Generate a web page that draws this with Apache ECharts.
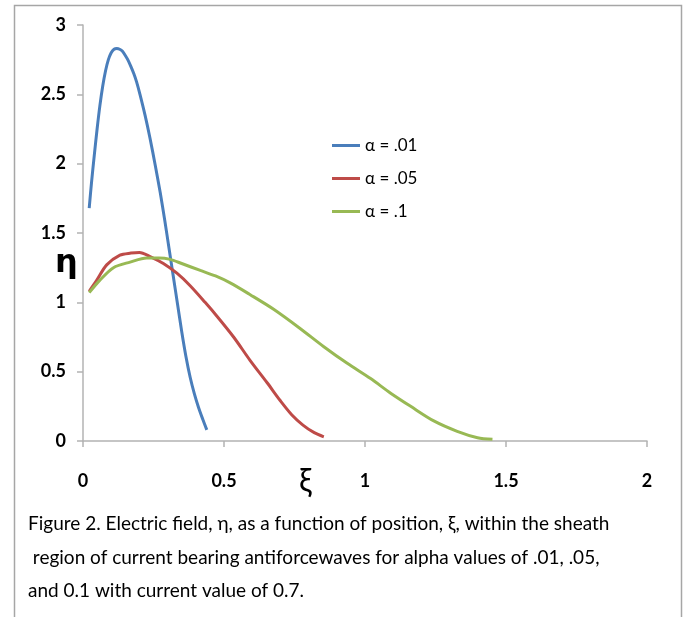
<!DOCTYPE html>
<html>
<head>
<meta charset="utf-8">
<script src="https://cdn.jsdelivr.net/npm/echarts@6/dist/echarts.min.js"></script>
<style>
html,body{margin:0;padding:0;background:#fff;}
#chart{width:684px;height:617px;}
</style>
</head>
<body>
<div id="chart"></div>
<script>
const seriesNames = ['α = .01', 'α = .05', 'α = .1'];
const xTicks = [0, 0.5, 1, 1.5, 2];
const yTicks = [0, 0.5, 1, 1.5, 2, 2.5, 3];

const blueX = [0.022,0.03,0.04,0.05,0.06,0.07,0.08,0.09,0.10,0.11,0.12,0.13,0.14,0.15,0.16,0.17,0.18,0.19,0.202,0.22,0.238,0.256,0.274,0.29,0.305,0.32,0.335,0.35,0.365,0.38,0.395,0.41,0.425,0.439];
const blueY = [1.68,1.86,2.06,2.25,2.42,2.56,2.67,2.75,2.80,2.825,2.83,2.825,2.81,2.78,2.745,2.70,2.65,2.59,2.50,2.35,2.18,1.99,1.79,1.59,1.39,1.19,0.99,0.79,0.61,0.46,0.34,0.24,0.155,0.08];

const redX = [0.022,0.049,0.084,0.131,0.17,0.20,0.238,0.285,0.333,0.38,0.433,0.475,0.534,0.593,0.653,0.70,0.74,0.78,0.82,0.854];
const redY = [1.08,1.16,1.27,1.34,1.355,1.36,1.33,1.28,1.21,1.12,1.00,0.90,0.75,0.58,0.42,0.29,0.19,0.115,0.06,0.03];

const greenX = [0.022,0.06,0.108,0.167,0.226,0.27,0.309,0.35,0.416,0.47,0.522,0.593,0.676,0.771,0.854,0.937,1.02,1.091,1.162,1.244,1.327,1.399,1.452];
const greenY = [1.07,1.16,1.25,1.29,1.32,1.32,1.31,1.28,1.23,1.19,1.14,1.055,0.95,0.81,0.68,0.56,0.45,0.345,0.25,0.145,0.07,0.024,0.012];

const captionLines = [
  'Figure 2. Electric field, η, as a function of position, ξ, within the sheath',
  ' region of current bearing antiforcewaves for alpha values of .01, .05,',
  'and 0.1 with current value of 0.7.'
];

const zip = (xs, ys) => xs.map((x, i) => [x, ys[i]]);
const colors = ['#4a7ebb', '#be4b48', '#98b954'];
const FONT = "Lato, 'Open Sans', sans-serif";

const chart = echarts.init(document.getElementById('chart'));
const axisGray = '#b3b3b3';

chart.setOption({
  animation: false,
  backgroundColor: '#fff',
  grid: { left: 83, right: 37, top: 25, bottom: 176, containLabel: false },
  xAxis: {
    type: 'value', min: xTicks[0], max: xTicks[xTicks.length - 1], interval: 0.5,
    axisLine: { show: true, onZero: false, lineStyle: { color: axisGray, width: 1.5 } },
    axisTick: { show: true, length: 6, lineStyle: { color: axisGray, width: 1.5 } },
    splitLine: { show: false },
    axisLabel: { margin: 31, color: '#000', fontFamily: FONT, fontWeight: 'bold', fontSize: 18 }
  },
  yAxis: {
    type: 'value', min: yTicks[0], max: yTicks[yTicks.length - 1], interval: 0.5,
    axisLine: { show: true, lineStyle: { color: axisGray, width: 1.5 } },
    axisTick: { show: true, length: 6, lineStyle: { color: axisGray, width: 1.5 } },
    splitLine: { show: false },
    axisLabel: { margin: 17, color: '#000', fontFamily: FONT, fontWeight: 'bold', fontSize: 18 }
  },
  legend: {
    orient: 'vertical', left: 332, top: 137, padding: 0,
    itemWidth: 28, itemHeight: 3, itemGap: 16, icon: 'rect',
    textStyle: { fontFamily: FONT, fontSize: 17, color: '#000' },
    data: seriesNames
  },
  series: [
    { name: seriesNames[0], type: 'line', data: zip(blueX, blueY), smooth: 0.3, symbol: 'none', lineStyle: { width: 3, color: colors[0] }, itemStyle: { color: colors[0] } },
    { name: seriesNames[1], type: 'line', data: zip(redX, redY), smooth: 0.3, symbol: 'none', lineStyle: { width: 3, color: colors[1] }, itemStyle: { color: colors[1] } },
    { name: seriesNames[2], type: 'line', data: zip(greenX, greenY), smooth: 0.3, symbol: 'none', lineStyle: { width: 3, color: colors[2] }, itemStyle: { color: colors[2] } }
  ],
  graphic: [
    { type: 'rect', shape: { x: 14.5, y: 5.5, width: 667, height: 620 }, style: { fill: 'none', stroke: '#a6a6a6', lineWidth: 1.5 }, silent: true },
    { type: 'text', left: 55, top: 248, style: { text: 'η', font: "bold 32px 'DejaVu Sans', sans-serif", fill: '#000' } },
    { type: 'text', left: 299, top: 466, style: { text: 'ξ', font: "32px Lato, 'DejaVu Sans', sans-serif", fill: '#000' } },
    { type: 'text', left: 28, top: 514, style: { text: captionLines[0], font: "19px " + FONT, fill: '#000' } },
    { type: 'text', left: 28, top: 548, style: { text: captionLines[1], font: "19px " + FONT, fill: '#000' } },
    { type: 'text', left: 28, top: 581, style: { text: captionLines[2], font: "19px " + FONT, fill: '#000' } }
  ]
});
</script>
</body>
</html>
